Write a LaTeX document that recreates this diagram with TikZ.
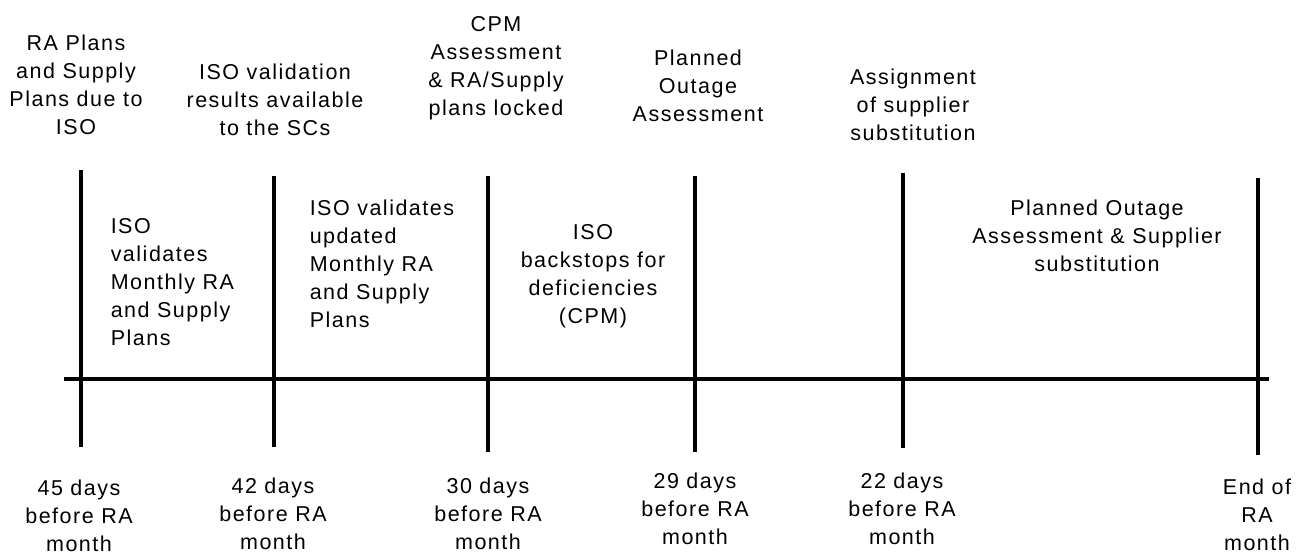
\documentclass[tikz,border=0pt]{standalone}
\usepackage{fontspec}
\setmainfont{Liberation Sans}[LetterSpace=7]
\begin{document}
\begin{tikzpicture}[x=1pt, y=-1pt, line width=3.5pt,
  toptext/.style={inner sep=0pt, font=\fontsize{21.5}{28}\selectfont, align=center, anchor=north},
  midtext/.style={inner sep=0pt, font=\fontsize{21.5}{28}\selectfont, align=left, anchor=north west},
  daytext/.style={inner sep=0pt, font=\fontsize{21.5}{28}\selectfont, align=center, anchor=north}]
\useasboundingbox (0,0) rectangle (1308,554);
% West to East timeline
    \draw (64,379) -- (1269,379);
% North to South milestone lines
    \draw (81,170) -- (81,447);
    \draw (274,176) -- (274,447);
    \draw (488,176) -- (488,452);
    \draw (695,176) -- (695,452);
    \draw (903,173) -- (903,448);
    \draw (1258,178) -- (1258,455);
% Events above the lines
    \node[toptext] (due) at (76,33) {RA Plans\\and Supply\\Plans due to\\ISO};
    \node[toptext] (results) at (275,62) {ISO validation\\results available\\to the SCs};
    \node[toptext] (locked) at (496,15) {CPM\\Assessment\\\& RA/Supply\\plans locked};
    \node[toptext] (outage) at (698,48) {Planned\\Outage\\Assessment};
    \node[toptext] (assign) at (913,67) {Assignment\\of supplier\\substitution};
% Work between the lines
    \node[midtext] (validate) at (109,217) {ISO\\validates\\Monthly RA\\and Supply\\Plans};
    \node[midtext] (revalidate) at (308,198) {ISO validates\\updated\\Monthly RA\\and Supply\\Plans};
    \node[toptext] (backstop) at (593,223) {ISO\\backstops for\\deficiencies\\(CPM)};
    \node[toptext] (substitute) at (1097,198) {Planned Outage\\Assessment \& Supplier\\substitution};
% Days below the lines
    \node[daytext] (d45) at (79,478) {45 days\\before RA\\month};
    \node[daytext] (d42) at (273,476) {42 days\\before RA\\month};
    \node[daytext] (d30) at (488,476) {30 days\\before RA\\month};
    \node[daytext] (d29) at (695,471) {29 days\\before RA\\month};
    \node[daytext] (d22) at (902,471) {22 days\\before RA\\month};
    \node[daytext] (dend) at (1257,477) {End of\\RA\\month};
\end{tikzpicture}
\end{document}
